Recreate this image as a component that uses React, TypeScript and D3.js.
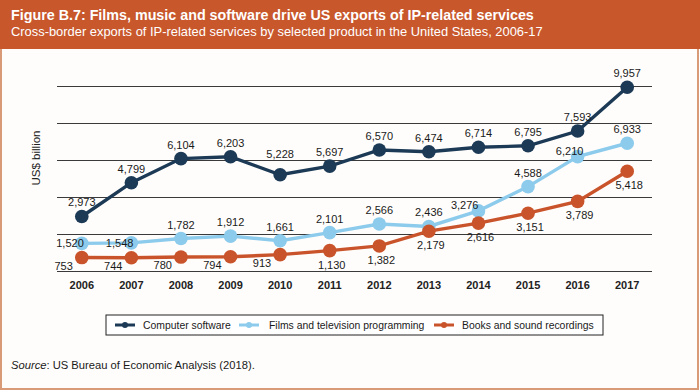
import React from 'react';
import { scalePoint, scaleLinear, line } from 'd3';

const years = ['2006', '2007', '2008', '2009', '2010', '2011', '2012', '2013', '2014', '2015', '2016', '2017'];
const software = [2973, 4799, 6104, 6203, 5228, 5697, 6570, 6474, 6714, 6795, 7593, 9957];
const films = [1520, 1548, 1782, 1912, 1661, 2101, 2566, 2436, 3276, 4588, 6210, 6933];
const books = [753, 744, 780, 794, 913, 1130, 1382, 2179, 2616, 3151, 3789, 5418];
const gridValues = [0, 2000, 4000, 6000, 8000, 10000];

// where each value label sits relative to its marker
const softwarePlace = ['t', 't', 't', 't', 'tt', 't', 't', 't', 't', 't', 't', 't'];
const filmsPlace = ['l', 'l', 't', 't', 't', 't', 't', 't', 'tl', 't', 'tm', 't'];
const booksPlace = ['bl', 'bl', 'bl', 'bl', 'bl', 'b', 'b', 'b', 'b', 'b', 'b', 'b'];

const series = [
  { name: 'Computer software', values: software, place: softwarePlace, color: '#1c3a56' },
  { name: 'Films and television programming', values: films, place: filmsPlace, color: '#8ccbec' },
  { name: 'Books and sound recordings', values: books, place: booksPlace, color: '#c9542b' },
];

const W = 700;
const H = 392;
const font = "'Liberation Sans', Arial, Helvetica, sans-serif";

const x = scalePoint<string>().domain(years).range([57, 652]).padding(0.5);
const y = scaleLinear().domain([0, 10000]).range([271.5, 86.5]);

const fmt = (v: number) => v.toLocaleString('en-US');

function labelPos(code: string) {
  switch (code) {
    case 'tt': return { dx: 0, dy: -21, anchor: 'middle' };
    case 'l': return { dx: 2, dy: 0, anchor: 'end' };
    case 'tl': return { dx: 0, dy: -6, anchor: 'end' };
    case 'tm': return { dx: -8, dy: -6, anchor: 'middle' };
    case 'bl': return { dx: -9, dy: 8, anchor: 'end' };
    case 'b': return { dx: 2, dy: 14, anchor: 'middle' };
    default: return { dx: 0, dy: -14, anchor: 'middle' };
  }
}

const legendItems = [
  { iconX: 115, textX: 143 },
  { iconX: 239, textX: 269 },
  { iconX: 434, textX: 462 },
];

function App() {
  const path = line<number>()
    .x((_, i) => x(years[i]) as number)
    .y((d) => y(d));

  return (
    <svg width={W} height={H} style={{ position: 'absolute', left: 0, top: 0 }} fontFamily={font}>
      <rect x={1} y={1} width={W - 3} height={H - 4} fill="#fffdfb" stroke="#d99a78" strokeWidth={2} />
      <rect x={0} y={0} width={W} height={49} fill="#c8572c" />
      <text x={11} y={20} fill="#fff" fontSize={14.3} fontWeight="bold">
        Figure B.7: Films, music and software drive US exports of IP-related services
      </text>
      <text x={11} y={36} fill="#fff" fontSize={12.9}>
        Cross-border exports of IP-related services by selected product in the United States, 2006-17
      </text>

      {gridValues.map((g) => (
        <line key={g} x1={57} x2={652} y1={y(g)} y2={y(g)} stroke="#3a3a3a" strokeWidth={1} />
      ))}

      <text
        transform={`translate(36, 158) rotate(-90)`}
        textAnchor="middle"
        dominantBaseline="central"
        fontSize={11.5}
        fill="#222"
      >
        US$ billion
      </text>

      {years.map((yr) => (
        <text key={yr} x={x(yr)} y={285} textAnchor="middle" dominantBaseline="central" fontSize={11} fontWeight="bold" fill="#222">
          {yr}
        </text>
      ))}

      {series.map((s) => (
        <g key={s.name}>
          <path d={path(s.values) || ''} fill="none" stroke={s.color} strokeWidth={3.4} />
          {s.values.map((v, i) => (
            <circle key={i} cx={x(years[i])} cy={y(v)} r={6.8} fill={s.color} />
          ))}
        </g>
      ))}

      {series.map((s) => (
        <g key={s.name + '-labels'}>
          {s.values.map((v, i) => {
            const p = labelPos(s.place[i]);
            return (
              <text
                key={i}
                x={(x(years[i]) as number) + p.dx}
                y={y(v) + p.dy}
                textAnchor={p.anchor}
                dominantBaseline="central"
                fontSize={11}
                fill="#1a1a1a"
              >
                {fmt(v)}
              </text>
            );
          })}
        </g>
      ))}

      <rect x={106} y={315} width={497} height={20} fill="#fff" stroke="#222" strokeWidth={1} />
      {series.map((s, i) => (
        <g key={s.name + '-legend'}>
          <line x1={legendItems[i].iconX} x2={legendItems[i].iconX + 20} y1={325} y2={325} stroke={s.color} strokeWidth={3} />
          <circle cx={legendItems[i].iconX + 10} cy={325} r={3} fill={s.color} />
          <text x={legendItems[i].textX} y={325} dominantBaseline="central" fontSize={10.4} fill="#1a1a1a">
            {s.name}
          </text>
        </g>
      ))}

      <text x={11} y={365} dominantBaseline="central" fontSize={11.2} fill="#1a1a1a">
        <tspan fontStyle="italic">Source</tspan>: US Bureau of Economic Analysis (2018).
      </text>
    </svg>
  );
}

export default App;
